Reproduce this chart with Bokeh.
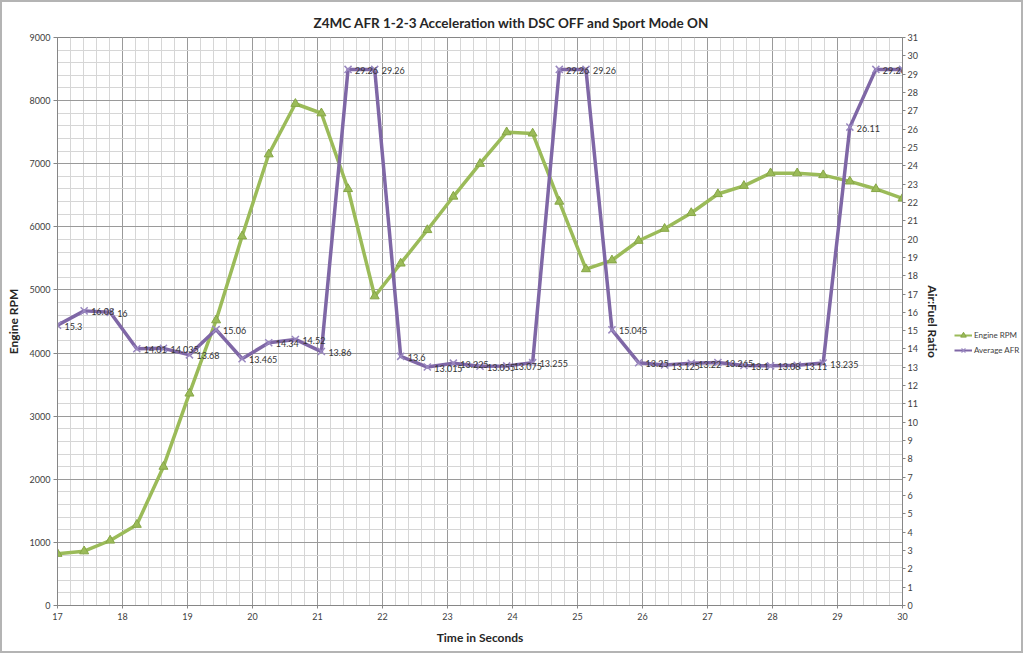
from bokeh.plotting import figure
from bokeh.layouts import row
from bokeh.models import (LinearAxis, Range1d, SingleIntervalTicker, Legend,
                          LegendItem, ColumnDataSource)
from bokeh.core.properties import value
from bokeh.embed import file_html
from bokeh.resources import INLINE

# ---- data ----
time_s = [17.0, 17.41, 17.81, 18.22, 18.63, 19.03, 19.44, 19.84, 20.25, 20.66,
          21.06, 21.47, 21.88, 22.28, 22.69, 23.09, 23.5, 23.91, 24.31, 24.72,
          25.13, 25.53, 25.94, 26.34, 26.75, 27.16, 27.56, 27.97, 28.38, 28.78,
          29.19, 29.59, 30.0]
engine_rpm = [820, 860, 1030, 1280, 2200, 3360, 4520, 5850, 7150, 7950,
              7800, 6600, 4900, 5420, 5950, 6480, 7000, 7500, 7480, 6400,
              5330, 5470, 5780, 5970, 6220, 6520, 6650, 6850, 6850, 6820,
              6720, 6600, 6450]
avg_afr = [15.3, 16.08, 16, 14.01, 14.035, 13.68, 15.06, 13.465, 14.34, 14.52,
           13.86, 29.26, 29.26, 13.6, 13.015, 13.225, 13.055, 13.075, 13.255, 29.26,
           29.26, 15.045, 13.25, 13.125, 13.22, 13.265, 13.1, 13.08, 13.11, 13.235,
           26.11, 29.26, 29.26]
afr_labels = [f"{v:g}" for v in avg_afr]
series_names = ["Engine RPM", "Average AFR"]

title_text = "Z4MC AFR 1-2-3 Acceleration with DSC OFF and Sport Mode ON"

FONT = "Lato"
GREEN = "#9BBB59"
GREEN_DARK = "#86a646"
PURPLE = "#7f67a6"
PURPLE_MARK = "#9a88c0"
AXIS_GRAY = "#868686"
TEXT = "#404040"

src = ColumnDataSource(dict(t=time_s, rpm=engine_rpm, afr=avg_afr, lab=afr_labels))

p = figure(frame_width=845, frame_height=568, output_backend="svg",
           toolbar_location=None,
           x_range=Range1d(17, 30), y_range=Range1d(0, 9000),
           min_border_left=55, min_border_right=50, min_border_top=35,
           min_border_bottom=46)
p.extra_y_ranges = {"afr": Range1d(0, 31)}

p.title.text = title_text
p.title.align = "left"
p.title.offset = 256
p.title.text_font = FONT
p.title.text_font_size = "13.5px"
p.title.text_font_style = "bold"
p.title.text_color = "#262626"
p.title.standoff = 14

p.outline_line_color = AXIS_GRAY
p.background_fill_color = "white"
p.border_fill_color = "white"

# x axis
xax = p.xaxis[0]
xax.ticker = SingleIntervalTicker(interval=1, num_minor_ticks=5)
xax.axis_label = "Time in Seconds"
xax.axis_label_text_font = FONT
xax.axis_label_text_font_size = "12px"
xax.axis_label_text_font_style = "bold"
xax.axis_label_text_color = "#262626"
xax.axis_label_standoff = 7
xax.major_label_text_font = FONT
xax.major_label_text_font_size = "9px"
xax.major_label_text_color = TEXT
xax.major_label_standoff = 3
xax.axis_line_color = AXIS_GRAY
xax.major_tick_line_color = AXIS_GRAY
xax.minor_tick_line_color = None
xax.major_tick_out = 3
xax.major_tick_in = 0

# left axis
yax = p.yaxis[0]
yax.ticker = SingleIntervalTicker(interval=1000, num_minor_ticks=5)
yax.axis_label = "Engine RPM"
yax.axis_label_text_font = FONT
yax.axis_label_text_font_size = "12px"
yax.axis_label_text_font_style = "bold"
yax.axis_label_text_color = "#262626"
yax.axis_label_standoff = 6
yax.major_label_text_font = FONT
yax.major_label_text_font_size = "9px"
yax.major_label_text_color = TEXT
yax.major_label_standoff = 3
yax.axis_line_color = AXIS_GRAY
yax.major_tick_line_color = AXIS_GRAY
yax.minor_tick_line_color = None
yax.major_tick_out = 4
yax.major_tick_in = 0

# right axis
rax = LinearAxis(y_range_name="afr", ticker=SingleIntervalTicker(interval=1),
                 axis_label="Air:Fuel Ratio")
rax.axis_label_text_font = FONT
rax.axis_label_text_font_size = "12px"
rax.axis_label_text_font_style = "bold"
rax.axis_label_text_color = "#262626"
rax.axis_label_standoff = 4
rax.major_label_text_font = FONT
rax.major_label_text_font_size = "9px"
rax.major_label_text_color = TEXT
rax.major_label_standoff = 1
rax.axis_line_color = AXIS_GRAY
rax.major_tick_line_color = AXIS_GRAY
rax.minor_tick_line_color = None
rax.major_tick_out = 3
rax.major_tick_in = 0
p.add_layout(rax, "right")

# grids
p.xgrid.grid_line_color = "#9a9a9a"
p.xgrid.minor_grid_line_color = "#d6d6d6"
p.ygrid.grid_line_color = "#9a9a9a"
p.ygrid.minor_grid_line_color = "#d6d6d6"

# series
p.line("t", "rpm", source=src, line_color=GREEN, line_width=3.5)
p.scatter("t", "rpm", source=src, marker="triangle", size=9,
          fill_color=GREEN, line_color=GREEN_DARK, line_width=1)
p.line("t", "afr", source=src, y_range_name="afr",
       line_color=PURPLE, line_width=3.5)
p.scatter("t", "afr", source=src, y_range_name="afr", marker="x",
          size=10, line_color=PURPLE_MARK, line_width=1.5)
p.text("t", "afr", text="lab", source=src, y_range_name="afr",
       x_offset=7, y_offset=1, text_baseline="middle", text_align="left",
       text_font=value(FONT), text_font_size="9px", text_color="#333333")

# ---- legend panel (separate small figure to the right) ----
# it holds the same series, but its ranges keep them out of view, so only
# the legend entries show
lg = figure(width=69, height=649, output_backend="svg", toolbar_location=None,
            x_range=Range1d(0, 1), y_range=Range1d(0, 1),
            min_border_left=0, min_border_right=0, min_border_top=0,
            min_border_bottom=0)
lg.axis.visible = False
lg.grid.visible = False
lg.outline_line_color = None
lg.border_fill_color = "white"
g_line = lg.line("t", "rpm", source=src, line_color=GREEN, line_width=2)
g_mark = lg.scatter("t", "rpm", source=src, marker="triangle", size=6,
                    fill_color=GREEN, line_color=GREEN_DARK)
a_line = lg.line("t", "afr", source=src, line_color=PURPLE, line_width=2)
a_mark = lg.scatter("t", "afr", source=src, marker="x", size=7,
                    line_color=PURPLE_MARK, line_width=1.2)
legend = Legend(items=[LegendItem(label=series_names[0], renderers=[g_line, g_mark]),
                       LegendItem(label=series_names[1], renderers=[a_line, a_mark])],
                location=(2, 248), orientation="vertical",
                border_line_color=None, background_fill_alpha=0,
                label_text_font=FONT, label_text_font_size="8px",
                label_text_color=TEXT, glyph_width=18, glyph_height=14,
                label_height=14, spacing=1, padding=0, margin=0,
                label_standoff=2)
lg.add_layout(legend, "center")

layout = row(p, lg)
layout.styles = {"border": "2px solid #b4b4b4", "background": "white"}

open("out.html", "w").write(file_html(layout, INLINE))
